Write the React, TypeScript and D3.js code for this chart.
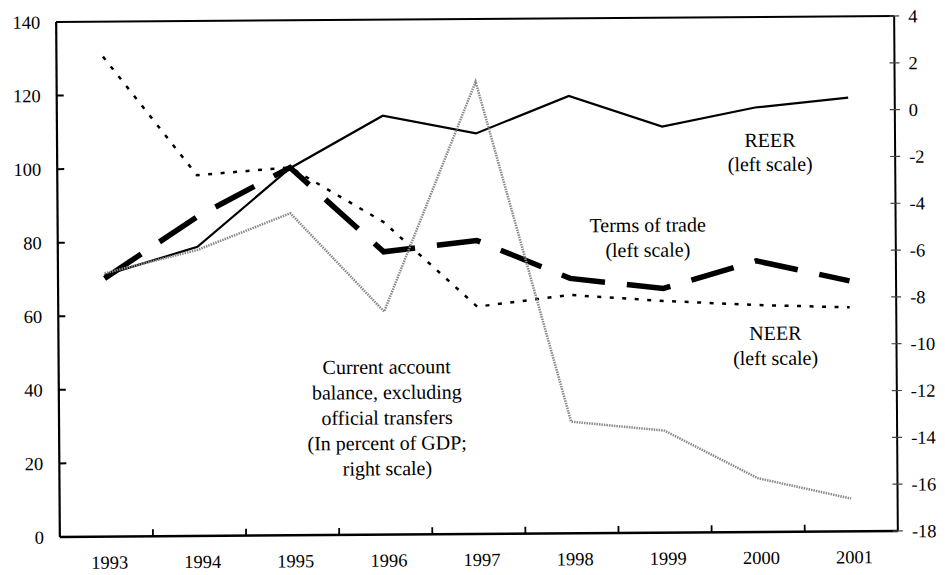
import React from 'react';
import * as d3 from 'd3';

const years = ['1993', '1994', '1995', '1996', '1997', '1998', '1999', '2000', '2001'];
const reer = [71.1, 78.6, 99.8, 113.9, 108.9, 118.9, 110.4, 115.4, 117.9];
const termsOfTrade = [70.2, 86.8, 100, 76.9, 79.8, 69.3, 66.4, 73.7, 68.1];
const neer = [130.5, 98.1, 100, 85, 61.8, 64.8, 63.0, 61.7, 60.9];
const currentAccount = [-6.75, -5.78, -4.24, -8.47, 1.32, -13.23, -13.64, -15.7, -16.6];
const leftTicks = [0, 20, 40, 60, 80, 100, 120, 140];
const rightTicks = [-18, -16, -14, -12, -10, -8, -6, -4, -2, 0, 2, 4];

const reerLabel = ['REER', '(left scale)'];
const totLabel = ['Terms of trade', '(left scale)'];
const neerLabel = ['NEER', '(left scale)'];
const caLabel = ['Current account', 'balance, excluding', 'official transfers', '(In percent of GDP;', 'right scale)'];

const FONT = "'Liberation Serif', 'Times New Roman', Times, serif";

export default function App() {
  const W = 945;
  const H = 575;
  const m = { left: 58, right: 896, top: 19, bottom: 534 };
  const x = d3.scaleBand<string>().domain(years).range([m.left, m.right]);
  const xc = (d: string) => (x(d) as number) + x.bandwidth() / 2;
  const yL = d3.scaleLinear().domain([0, 140]).range([m.bottom, m.top]);
  const yR = d3.scaleLinear().domain([-18, 4]).range([m.bottom, m.top]);

  const lineL = d3.line<number>().x((_, i) => xc(years[i])).y((v) => yL(v));
  const lineR = d3.line<number>().x((_, i) => xc(years[i])).y((v) => yR(v));

  const cx = (m.left + m.right) / 2;
  const cy = (m.top + m.bottom) / 2;
  const txtStyle = { fontFamily: FONT };

  const textBlock = (lines: string[], tx: number, ty: number, dy: number, key: string) => (
    <g key={key}>
      {lines.map((t, i) => (
        <text key={i} x={tx} y={ty + i * dy} textAnchor="middle" fontSize={20} style={txtStyle} fill="#000">
          {t}
        </text>
      ))}
    </g>
  );

  return (
    <svg
      width={W}
      height={H}
      style={{ position: 'absolute', left: 0, top: 0, display: 'block', background: '#fff', fontFamily: FONT }}
    >
      <rect x={0} y={0} width={W} height={H} fill="#fff" />
      <g transform={`rotate(-0.41, ${cx}, ${cy})`}>
        {/* series */}
        <path d={lineL(termsOfTrade) || ''} fill="none" stroke="#000" strokeWidth={5.5} strokeDasharray="44 22" />
        <path d={lineL(neer) || ''} fill="none" stroke="#000" strokeWidth={2.5} strokeDasharray="4 8.5" />
        <path d={lineL(reer) || ''} fill="none" stroke="#000" strokeWidth={2.2} strokeLinejoin="miter" />
        <path d={lineR(currentAccount) || ''} fill="none" stroke="#8a8a8a" strokeWidth={2.5} strokeDasharray="1.5 1" />

        {/* frame */}
        <line x1={m.left} x2={m.right} y1={m.top} y2={m.top} stroke="#000" strokeWidth={2} />
        <line x1={m.left} x2={m.right} y1={m.bottom} y2={m.bottom} stroke="#000" strokeWidth={2.5} />
        <line x1={m.left} x2={m.left} y1={m.top} y2={m.bottom} stroke="#000" strokeWidth={2.2} />
        <line x1={m.right} x2={m.right} y1={m.top} y2={m.bottom} stroke="#000" strokeWidth={2} />

        {/* left ticks */}
        {leftTicks.map((t) => (
          <g key={'l' + t}>
            <line x1={m.left} x2={m.left + 7} y1={yL(t)} y2={yL(t)} stroke="#000" strokeWidth={2} />
            <text x={m.left - 16} y={yL(t)} dy="0.35em" textAnchor="end" fontSize={18.5} style={txtStyle}>
              {t}
            </text>
          </g>
        ))}

        {/* right ticks */}
        {rightTicks.map((t) => (
          <g key={'r' + t}>
            <line x1={m.right - 5} x2={m.right + 5} y1={yR(t)} y2={yR(t)} stroke="#444" strokeWidth={1.2} />
            <text x={m.right + 14} y={yR(t)} dy="0.35em" textAnchor="start" fontSize={18.5} style={txtStyle}>
              {t}
            </text>
          </g>
        ))}

        {/* x ticks between categories */}
        {years.slice(1).map((yr) => (
          <line key={'x' + yr} x1={x(yr) as number} x2={x(yr) as number} y1={m.bottom} y2={m.bottom - 7} stroke="#000" strokeWidth={1.8} />
        ))}
        {years.map((yr) => (
          <text key={'xl' + yr} x={xc(yr) + 3} y={m.bottom + 32} textAnchor="middle" fontSize={18.5} style={txtStyle}>
            {yr}
          </text>
        ))}

        {/* annotations */}
        {textBlock(reerLabel, 771, 149, 24, 'reer')}
        {textBlock(totLabel, 648, 233, 25, 'tot')}
        {textBlock(neerLabel, 775, 342, 25, 'neer')}
        {textBlock(caLabel, 386, 373, 25.4, 'ca')}
      </g>
    </svg>
  );
}
